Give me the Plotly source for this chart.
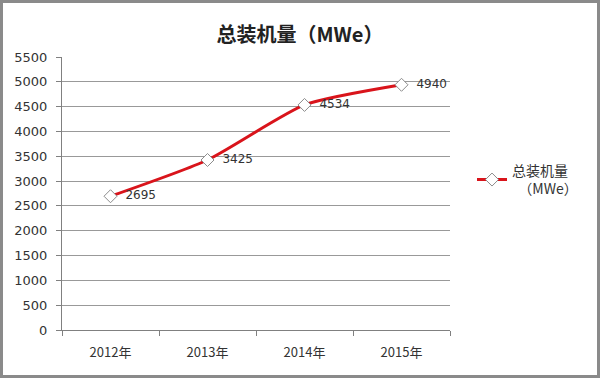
import plotly.graph_objects as go

years = ["2012年", "2013年", "2014年", "2015年"]
capacity = [2695, 3425, 4534, 4940]
y_ticks = list(range(0, 5501, 500))

W, H = 600, 378
ml, mr, mt, mb = 62, 150, 57, 48
pw, ph = W - ml - mr, H - mt - mb

font = "Noto Sans CJK SC, Microsoft YaHei, sans-serif"

fig = go.Figure()
fig.add_trace(go.Scatter(
    x=years, y=capacity, mode="lines+markers+text",
    name="总装机量<br>  （MWe）",
    line=dict(color="#D9141B", width=3, shape="spline", smoothing=0.6),
    marker=dict(symbol="diamond", size=10, color="white",
                line=dict(color="#8C8C8C", width=1)),
    text=["  " + str(v) for v in capacity], textposition="middle right",
    textfont=dict(size=12, color="#333333", family="DejaVu Sans"),
    cliponaxis=False,
))

fig.update_layout(
    width=W, height=H,
    margin=dict(l=ml, r=mr, t=mt, b=mb, autoexpand=False),
    paper_bgcolor="white", plot_bgcolor="white",
    title=dict(text="<b>总装机量（MWe）</b>", x=0.5, xanchor="center",
               y=1 - 35 / H, yanchor="middle",
               font=dict(size=20, color="#222222", family=font)),
    showlegend=True,
    legend=dict(x=1 + 22 / pw, y=0.55, xanchor="left", yanchor="middle",
                font=dict(size=14, color="#333333", family=font),
                bgcolor="rgba(0,0,0,0)", itemwidth=30),
    font=dict(family=font),
)
fig.update_xaxes(
    type="category", range=[-0.5, 3.5], automargin=False,
    showgrid=False, showline=True, linecolor="#808080", linewidth=1,
    ticks="outside", tickson="boundaries", ticklen=5, tickcolor="#808080",
    ticklabelstandoff=10,
    tickfont=dict(size=13, color="#333333", family=font),
)
fig.update_yaxes(
    range=[0, 5500], tickvals=y_ticks, automargin=False,
    showgrid=True, gridcolor="#999999", gridwidth=1,
    showline=True, linecolor="#808080", linewidth=1,
    ticks="outside", ticklen=5, tickcolor="#808080",
    ticklabelstandoff=6,
    tickfont=dict(size=13, color="#333333", family="DejaVu Sans"),
    zeroline=False,
)
# outer frame of the image
fig.add_shape(type="rect", xref="paper", yref="paper",
              x0=-(ml - 1.5) / pw, x1=1 + (mr - 1.5) / pw,
              y0=-(mb - 1.5) / ph, y1=1 + (mt - 1.5) / ph,
              line=dict(color="#8A8A8A", width=3), layer="above")

fig.write_html("out.html", config={"displayModeBar": False},
               post_script="document.body.style.margin='0';document.body.style.overflow='hidden';")
